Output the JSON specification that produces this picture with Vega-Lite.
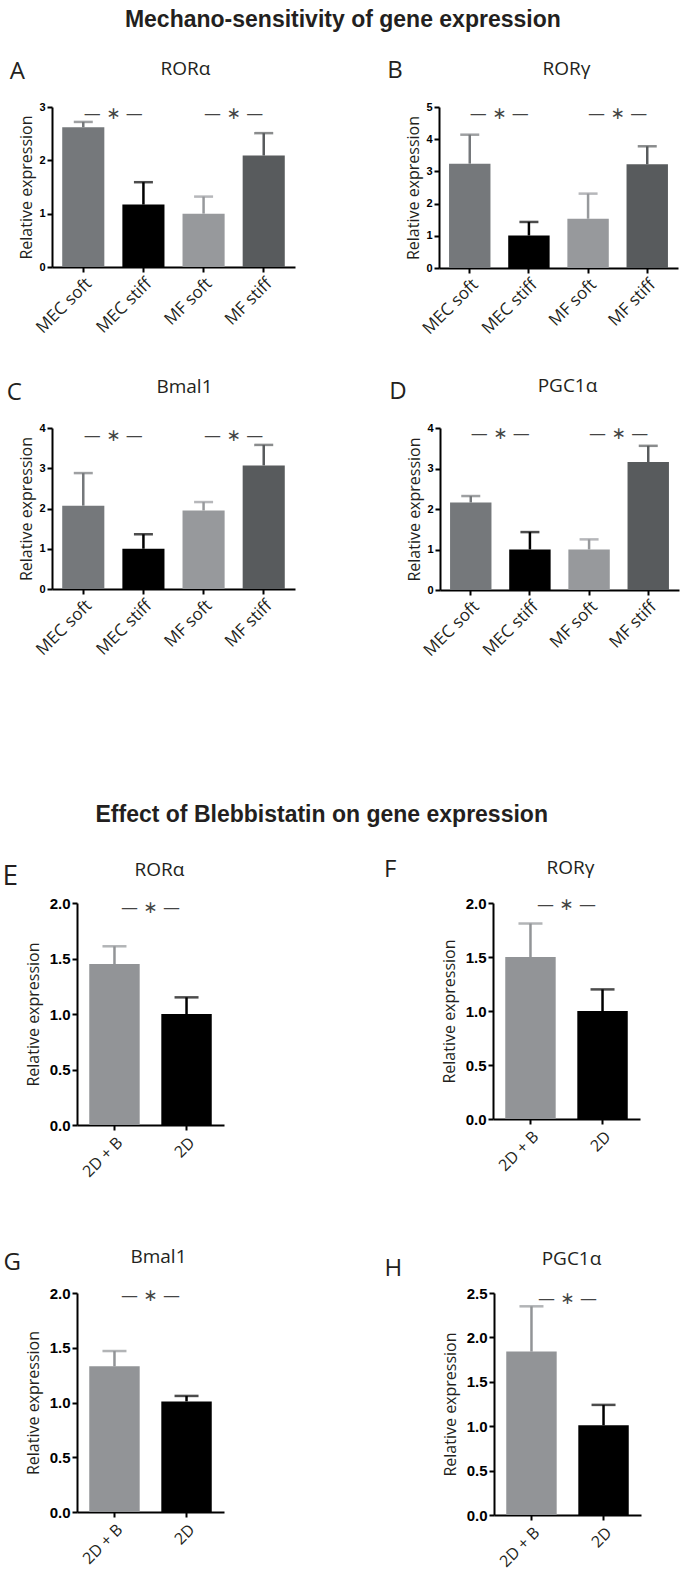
{
  "$schema": "https://vega.github.io/schema/vega-lite/v6.json",
  "background": "white",
  "padding": {"left": 2, "top": 9, "right": 2, "bottom": 2},
  "config": {
    "view": {"stroke": null},
    "axis": {
      "domainColor": "#000000", "domainWidth": 2, "tickColor": "#000000", "tickWidth": 2, "tickSize": 5,
      "labelFont": "Liberation Sans", "labelFontWeight": "bold", "labelColor": "#000000",
      "titleFont": "Open Sans", "titleFontWeight": "normal", "titleColor": "#231f20", "titleFontSize": 16,
      "grid": false, "labelOverlap": false, "labelFlush": false
    },
    "title": {"font": "Liberation Sans", "fontWeight": "bold", "fontSize": 23, "color": "#231f20", "anchor": "middle"},
    "text": {"font": "Open Sans", "color": "#231f20"}
  },
  "datasets": {
    "bars": [
      {"panel": "A", "group": "MEC soft", "mean": 2.62, "upper": 2.72},
      {"panel": "A", "group": "MEC stiff", "mean": 1.17, "upper": 1.59},
      {"panel": "A", "group": "MF soft", "mean": 1.0, "upper": 1.32},
      {"panel": "A", "group": "MF stiff", "mean": 2.09, "upper": 2.51},
      {"panel": "B", "group": "MEC soft", "mean": 3.24, "upper": 4.14},
      {"panel": "B", "group": "MEC stiff", "mean": 1.01, "upper": 1.43},
      {"panel": "B", "group": "MF soft", "mean": 1.53, "upper": 2.31},
      {"panel": "B", "group": "MF stiff", "mean": 3.22, "upper": 3.78},
      {"panel": "C", "group": "MEC soft", "mean": 2.07, "upper": 2.88},
      {"panel": "C", "group": "MEC stiff", "mean": 1.0, "upper": 1.36},
      {"panel": "C", "group": "MF soft", "mean": 1.95, "upper": 2.16},
      {"panel": "C", "group": "MF stiff", "mean": 3.07, "upper": 3.58},
      {"panel": "D", "group": "MEC soft", "mean": 2.16, "upper": 2.32},
      {"panel": "D", "group": "MEC stiff", "mean": 1.0, "upper": 1.43},
      {"panel": "D", "group": "MF soft", "mean": 1.0, "upper": 1.25},
      {"panel": "D", "group": "MF stiff", "mean": 3.16, "upper": 3.56},
      {"panel": "E", "group": "2D + B", "mean": 1.45, "upper": 1.61},
      {"panel": "E", "group": "2D", "mean": 1.0, "upper": 1.15},
      {"panel": "F", "group": "2D + B", "mean": 1.5, "upper": 1.81},
      {"panel": "F", "group": "2D", "mean": 1.0, "upper": 1.2},
      {"panel": "G", "group": "2D + B", "mean": 1.33, "upper": 1.47},
      {"panel": "G", "group": "2D", "mean": 1.01, "upper": 1.06},
      {"panel": "H", "group": "2D + B", "mean": 1.84, "upper": 2.35},
      {"panel": "H", "group": "2D", "mean": 1.01, "upper": 1.24}
    ],
    "sig": [
      {"panel": "A", "a": "MEC soft", "y": 2.86},
      {"panel": "A", "a": "MF soft", "y": 2.86},
      {"panel": "B", "a": "MEC soft", "y": 4.77},
      {"panel": "B", "a": "MF soft", "y": 4.77},
      {"panel": "C", "a": "MEC soft", "y": 3.79},
      {"panel": "C", "a": "MF soft", "y": 3.79},
      {"panel": "D", "a": "MEC soft", "y": 3.84},
      {"panel": "D", "a": "MF soft", "y": 3.84},
      {"panel": "E", "a": "2D + B", "y": 1.955},
      {"panel": "F", "a": "2D + B", "y": 1.98},
      {"panel": "G", "a": "2D + B", "y": 1.97},
      {"panel": "H", "a": "2D + B", "y": 2.43}
    ],
    "labels": [
      {"panel": "A", "letter": "A", "gene": "RORα"},
      {"panel": "B", "letter": "B", "gene": "RORγ"},
      {"panel": "C", "letter": "C", "gene": "Bmal1"},
      {"panel": "D", "letter": "D", "gene": "PGC1α"},
      {"panel": "E", "letter": "E", "gene": "RORα"},
      {"panel": "F", "letter": "F", "gene": "RORγ"},
      {"panel": "G", "letter": "G", "gene": "Bmal1"},
      {"panel": "H", "letter": "H", "gene": "PGC1α"}
    ]
  },
  "spacing": 145,
  "vconcat": [
    {
      "title": {"text": "Mechano-sensitivity of gene expression", "offset": 27},
      "spacing": 40,
      "vconcat": [
        {
          "spacing": 92,
          "hconcat": [
            {
              "width": 243, "height": 160,
              "layer": [
                {"data": {"name": "bars"}, "transform": [{"filter": "datum.panel === 'A'"}], "mark": {"type": "bar"},
                 "encoding": {
                   "x": {"field": "group", "type": "nominal", "sort": null, "title": null,
                         "scale": {"domain": ["MEC soft", "MEC stiff", "MF soft", "MF stiff"], "paddingInner": 0.3, "paddingOuter": 0.17},
                         "axis": {"labelAngle": -45, "labelFont": "Open Sans", "labelFontWeight": "normal", "labelFontSize": 17, "labelColor": "#231f20", "labelPadding": 3}},
                   "y": {"field": "mean", "type": "quantitative", "title": "Relative expression", "scale": {"domain": [0, 3], "nice": false},
                         "axis": {"values": [0, 1, 2, 3], "format": "d", "labelFontSize": 11, "labelPadding": 2, "labelOverlap": false}},
                   "color": {"field": "group", "type": "nominal", "legend": null,
                             "scale": {"domain": ["MEC soft", "MEC stiff", "MF soft", "MF stiff", "2D + B", "2D"], "range": ["#75787b", "#000000", "#97999c", "#585b5d", "#929497", "#000000"]}}}},
                {"data": {"name": "bars"}, "transform": [{"filter": "datum.panel === 'A'"}], "mark": {"type": "rule", "strokeWidth": 2.5},
                 "encoding": {"x": {"field": "group", "type": "nominal"}, "y": {"field": "mean", "type": "quantitative"}, "y2": {"field": "upper"}, "color": {"field": "group", "type": "nominal", "legend": null}}},
                {"data": {"name": "bars"}, "transform": [{"filter": "datum.panel === 'A'"}], "mark": {"type": "tick", "thickness": 2.5, "size": 19},
                 "encoding": {"x": {"field": "group", "type": "nominal"}, "y": {"field": "upper", "type": "quantitative"}, "color": {"field": "group", "type": "nominal", "legend": null}}},
                {"data": {"name": "sig"}, "transform": [{"filter": "datum.panel === 'A'"}], "mark": {"type": "text", "text": "\u2014\u00a0\u2217\u00a0\u2014", "font": "DejaVu Sans", "fontSize": 17, "baseline": "middle", "color": "#444444"},
                 "encoding": {"x": {"field": "a", "type": "nominal", "bandPosition": 1.214}, "y": {"field": "y", "type": "quantitative"}}},
                {"data": {"name": "labels"}, "transform": [{"filter": "datum.panel === 'A'"}], "mark": {"type": "text", "fontSize": 24, "align": "center", "baseline": "alphabetic", "dx": -45, "dy": -28},
                 "encoding": {"x": {"datum": "MEC soft", "type": "nominal", "bandPosition": 0}, "y": {"datum": 3, "type": "quantitative"}, "text": {"field": "letter"}}},
                {"data": {"name": "labels"}, "transform": [{"filter": "datum.panel === 'A'"}], "mark": {"type": "text", "fontSize": 19, "align": "center", "baseline": "alphabetic", "dx": 12, "dy": -32},
                 "encoding": {"x": {"datum": "MEC stiff", "type": "nominal", "bandPosition": 1.214}, "y": {"datum": 3, "type": "quantitative"}, "text": {"field": "gene"}}}
              ]
            },
            {
              "width": 239, "height": 161,
              "layer": [
                {"data": {"name": "bars"}, "transform": [{"filter": "datum.panel === 'B'"}], "mark": {"type": "bar"},
                 "encoding": {
                   "x": {"field": "group", "type": "nominal", "sort": null, "title": null,
                         "scale": {"domain": ["MEC soft", "MEC stiff", "MF soft", "MF stiff"], "paddingInner": 0.3, "paddingOuter": 0.17},
                         "axis": {"labelAngle": -45, "labelFont": "Open Sans", "labelFontWeight": "normal", "labelFontSize": 17, "labelColor": "#231f20", "labelPadding": 3}},
                   "y": {"field": "mean", "type": "quantitative", "title": "Relative expression", "scale": {"domain": [0, 5], "nice": false},
                         "axis": {"values": [0, 1, 2, 3, 4, 5], "tickCount": 6, "format": "d", "labelFontSize": 11, "labelPadding": 2, "labelOverlap": false}},
                   "color": {"field": "group", "type": "nominal", "legend": null,
                             "scale": {"domain": ["MEC soft", "MEC stiff", "MF soft", "MF stiff", "2D + B", "2D"], "range": ["#75787b", "#000000", "#97999c", "#585b5d", "#929497", "#000000"]}}}},
                {"data": {"name": "bars"}, "transform": [{"filter": "datum.panel === 'B'"}], "mark": {"type": "rule", "strokeWidth": 2.5},
                 "encoding": {"x": {"field": "group", "type": "nominal"}, "y": {"field": "mean", "type": "quantitative"}, "y2": {"field": "upper"}, "color": {"field": "group", "type": "nominal", "legend": null}}},
                {"data": {"name": "bars"}, "transform": [{"filter": "datum.panel === 'B'"}], "mark": {"type": "tick", "thickness": 2.5, "size": 19},
                 "encoding": {"x": {"field": "group", "type": "nominal"}, "y": {"field": "upper", "type": "quantitative"}, "color": {"field": "group", "type": "nominal", "legend": null}}},
                {"data": {"name": "sig"}, "transform": [{"filter": "datum.panel === 'B'"}], "mark": {"type": "text", "text": "\u2014\u00a0\u2217\u00a0\u2014", "font": "DejaVu Sans", "fontSize": 17, "baseline": "middle", "color": "#444444"},
                 "encoding": {"x": {"field": "a", "type": "nominal", "bandPosition": 1.214}, "y": {"field": "y", "type": "quantitative"}}},
                {"data": {"name": "labels"}, "transform": [{"filter": "datum.panel === 'B'"}], "mark": {"type": "text", "fontSize": 24, "align": "center", "baseline": "alphabetic", "dx": -54, "dy": -29},
                 "encoding": {"x": {"datum": "MEC soft", "type": "nominal", "bandPosition": 0}, "y": {"datum": 5, "type": "quantitative"}, "text": {"field": "letter"}}},
                {"data": {"name": "labels"}, "transform": [{"filter": "datum.panel === 'B'"}], "mark": {"type": "text", "fontSize": 19, "align": "center", "baseline": "alphabetic", "dx": 8, "dy": -32},
                 "encoding": {"x": {"datum": "MEC stiff", "type": "nominal", "bandPosition": 1.214}, "y": {"datum": 5, "type": "quantitative"}, "text": {"field": "gene"}}}
              ]
            }
          ]
        },
        {
          "spacing": 94,
          "hconcat": [
            {
              "width": 243, "height": 161,
              "layer": [
                {"data": {"name": "bars"}, "transform": [{"filter": "datum.panel === 'C'"}], "mark": {"type": "bar"},
                 "encoding": {
                   "x": {"field": "group", "type": "nominal", "sort": null, "title": null,
                         "scale": {"domain": ["MEC soft", "MEC stiff", "MF soft", "MF stiff"], "paddingInner": 0.3, "paddingOuter": 0.17},
                         "axis": {"labelAngle": -45, "labelFont": "Open Sans", "labelFontWeight": "normal", "labelFontSize": 17, "labelColor": "#231f20", "labelPadding": 3}},
                   "y": {"field": "mean", "type": "quantitative", "title": "Relative expression", "scale": {"domain": [0, 4], "nice": false},
                         "axis": {"values": [0, 1, 2, 3, 4], "format": "d", "labelFontSize": 11, "labelPadding": 2, "labelOverlap": false}},
                   "color": {"field": "group", "type": "nominal", "legend": null,
                             "scale": {"domain": ["MEC soft", "MEC stiff", "MF soft", "MF stiff", "2D + B", "2D"], "range": ["#75787b", "#000000", "#97999c", "#585b5d", "#929497", "#000000"]}}}},
                {"data": {"name": "bars"}, "transform": [{"filter": "datum.panel === 'C'"}], "mark": {"type": "rule", "strokeWidth": 2.5},
                 "encoding": {"x": {"field": "group", "type": "nominal"}, "y": {"field": "mean", "type": "quantitative"}, "y2": {"field": "upper"}, "color": {"field": "group", "type": "nominal", "legend": null}}},
                {"data": {"name": "bars"}, "transform": [{"filter": "datum.panel === 'C'"}], "mark": {"type": "tick", "thickness": 2.5, "size": 19},
                 "encoding": {"x": {"field": "group", "type": "nominal"}, "y": {"field": "upper", "type": "quantitative"}, "color": {"field": "group", "type": "nominal", "legend": null}}},
                {"data": {"name": "sig"}, "transform": [{"filter": "datum.panel === 'C'"}], "mark": {"type": "text", "text": "\u2014\u00a0\u2217\u00a0\u2014", "font": "DejaVu Sans", "fontSize": 17, "baseline": "middle", "color": "#444444"},
                 "encoding": {"x": {"field": "a", "type": "nominal", "bandPosition": 1.214}, "y": {"field": "y", "type": "quantitative"}}},
                {"data": {"name": "labels"}, "transform": [{"filter": "datum.panel === 'C'"}], "mark": {"type": "text", "fontSize": 24, "align": "center", "baseline": "alphabetic", "dx": -48, "dy": -28},
                 "encoding": {"x": {"datum": "MEC soft", "type": "nominal", "bandPosition": 0}, "y": {"datum": 4, "type": "quantitative"}, "text": {"field": "letter"}}},
                {"data": {"name": "labels"}, "transform": [{"filter": "datum.panel === 'C'"}], "mark": {"type": "text", "fontSize": 19, "align": "center", "baseline": "alphabetic", "dx": 11, "dy": -35},
                 "encoding": {"x": {"datum": "MEC stiff", "type": "nominal", "bandPosition": 1.214}, "y": {"datum": 4, "type": "quantitative"}, "text": {"field": "gene"}}}
              ]
            },
            {
              "width": 239, "height": 162,
              "layer": [
                {"data": {"name": "bars"}, "transform": [{"filter": "datum.panel === 'D'"}], "mark": {"type": "bar"},
                 "encoding": {
                   "x": {"field": "group", "type": "nominal", "sort": null, "title": null,
                         "scale": {"domain": ["MEC soft", "MEC stiff", "MF soft", "MF stiff"], "paddingInner": 0.3, "paddingOuter": 0.17},
                         "axis": {"labelAngle": -45, "labelFont": "Open Sans", "labelFontWeight": "normal", "labelFontSize": 17, "labelColor": "#231f20", "labelPadding": 3}},
                   "y": {"field": "mean", "type": "quantitative", "title": "Relative expression", "scale": {"domain": [0, 4], "nice": false},
                         "axis": {"values": [0, 1, 2, 3, 4], "format": "d", "labelFontSize": 11, "labelPadding": 2, "labelOverlap": false}},
                   "color": {"field": "group", "type": "nominal", "legend": null,
                             "scale": {"domain": ["MEC soft", "MEC stiff", "MF soft", "MF stiff", "2D + B", "2D"], "range": ["#75787b", "#000000", "#97999c", "#585b5d", "#929497", "#000000"]}}}},
                {"data": {"name": "bars"}, "transform": [{"filter": "datum.panel === 'D'"}], "mark": {"type": "rule", "strokeWidth": 2.5},
                 "encoding": {"x": {"field": "group", "type": "nominal"}, "y": {"field": "mean", "type": "quantitative"}, "y2": {"field": "upper"}, "color": {"field": "group", "type": "nominal", "legend": null}}},
                {"data": {"name": "bars"}, "transform": [{"filter": "datum.panel === 'D'"}], "mark": {"type": "tick", "thickness": 2.5, "size": 19},
                 "encoding": {"x": {"field": "group", "type": "nominal"}, "y": {"field": "upper", "type": "quantitative"}, "color": {"field": "group", "type": "nominal", "legend": null}}},
                {"data": {"name": "sig"}, "transform": [{"filter": "datum.panel === 'D'"}], "mark": {"type": "text", "text": "\u2014\u00a0\u2217\u00a0\u2014", "font": "DejaVu Sans", "fontSize": 17, "baseline": "middle", "color": "#444444"},
                 "encoding": {"x": {"field": "a", "type": "nominal", "bandPosition": 1.214}, "y": {"field": "y", "type": "quantitative"}}},
                {"data": {"name": "labels"}, "transform": [{"filter": "datum.panel === 'D'"}], "mark": {"type": "text", "fontSize": 24, "align": "center", "baseline": "alphabetic", "dx": -52, "dy": -29},
                 "encoding": {"x": {"datum": "MEC soft", "type": "nominal", "bandPosition": 0}, "y": {"datum": 4, "type": "quantitative"}, "text": {"field": "letter"}}},
                {"data": {"name": "labels"}, "transform": [{"filter": "datum.panel === 'D'"}], "mark": {"type": "text", "fontSize": 19, "align": "center", "baseline": "alphabetic", "dx": 8, "dy": -36},
                 "encoding": {"x": {"datum": "MEC stiff", "type": "nominal", "bandPosition": 1.214}, "y": {"datum": 4, "type": "quantitative"}, "text": {"field": "gene"}}}
              ]
            }
          ]
        }
      ]
    },
    {
      "spacing": -51,
      "hconcat": [
        {"width": 1, "height": 1, "data": {"values": []}, "mark": {"type": "point", "opacity": 0}},
        {
          "title": {"text": "Effect of Blebbistatin on gene expression", "offset": 31},
          "spacing": 68,
          "vconcat": [
            {
              "spacing": 160,
              "hconcat": [
                {
                  "width": 147, "height": 222,
                  "layer": [
                    {"data": {"name": "bars"}, "transform": [{"filter": "datum.panel === 'E'"}], "mark": {"type": "bar"},
                     "encoding": {
                       "x": {"field": "group", "type": "nominal", "sort": null, "title": null,
                             "scale": {"domain": ["2D + B", "2D"], "paddingInner": 0.3, "paddingOuter": 0.17},
                             "axis": {"labelAngle": -45, "labelFont": "Open Sans", "labelFontWeight": "normal", "labelFontSize": 16, "labelColor": "#231f20", "labelPadding": 4}},
                       "y": {"field": "mean", "type": "quantitative", "title": "Relative expression", "scale": {"domain": [0, 2], "nice": false},
                             "axis": {"values": [0, 0.5, 1, 1.5, 2], "format": ".1f", "labelFontSize": 15, "labelPadding": 2, "titlePadding": 8, "labelOverlap": false}},
                       "color": {"field": "group", "type": "nominal", "legend": null,
                                 "scale": {"domain": ["MEC soft", "MEC stiff", "MF soft", "MF stiff", "2D + B", "2D"], "range": ["#75787b", "#000000", "#97999c", "#585b5d", "#929497", "#000000"]}}}},
                    {"data": {"name": "bars"}, "transform": [{"filter": "datum.panel === 'E'"}], "mark": {"type": "rule", "strokeWidth": 2.5},
                     "encoding": {"x": {"field": "group", "type": "nominal"}, "y": {"field": "mean", "type": "quantitative"}, "y2": {"field": "upper"}, "color": {"field": "group", "type": "nominal", "legend": null}}},
                    {"data": {"name": "bars"}, "transform": [{"filter": "datum.panel === 'E'"}], "mark": {"type": "tick", "thickness": 2.5, "size": 24},
                     "encoding": {"x": {"field": "group", "type": "nominal"}, "y": {"field": "upper", "type": "quantitative"}, "color": {"field": "group", "type": "nominal", "legend": null}}},
                    {"data": {"name": "sig"}, "transform": [{"filter": "datum.panel === 'E'"}], "mark": {"type": "text", "text": "\u2014\u00a0\u2217\u00a0\u2014", "font": "DejaVu Sans", "fontSize": 17, "baseline": "middle", "color": "#444444"},
                     "encoding": {"x": {"field": "a", "type": "nominal", "bandPosition": 1.214}, "y": {"field": "y", "type": "quantitative"}}},
                    {"data": {"name": "labels"}, "transform": [{"filter": "datum.panel === 'E'"}], "mark": {"type": "text", "fontSize": 28, "align": "center", "baseline": "alphabetic", "dx": -79, "dy": -18},
                     "encoding": {"x": {"datum": "2D + B", "type": "nominal", "bandPosition": 0}, "y": {"datum": 2, "type": "quantitative"}, "text": {"field": "letter"}}},
                    {"data": {"name": "labels"}, "transform": [{"filter": "datum.panel === 'E'"}], "mark": {"type": "text", "fontSize": 19, "align": "center", "baseline": "alphabetic", "dx": 9, "dy": -27},
                     "encoding": {"x": {"datum": "2D + B", "type": "nominal", "bandPosition": 1.214}, "y": {"datum": 2, "type": "quantitative"}, "text": {"field": "gene"}}}
                  ]
                },
                {
                  "width": 147, "height": 216,
                  "layer": [
                    {"data": {"name": "bars"}, "transform": [{"filter": "datum.panel === 'F'"}], "mark": {"type": "bar"},
                     "encoding": {
                       "x": {"field": "group", "type": "nominal", "sort": null, "title": null,
                             "scale": {"domain": ["2D + B", "2D"], "paddingInner": 0.3, "paddingOuter": 0.17},
                             "axis": {"labelAngle": -45, "labelFont": "Open Sans", "labelFontWeight": "normal", "labelFontSize": 16, "labelColor": "#231f20", "labelPadding": 4}},
                       "y": {"field": "mean", "type": "quantitative", "title": "Relative expression", "scale": {"domain": [0, 2], "nice": false},
                             "axis": {"values": [0, 0.5, 1, 1.5, 2], "format": ".1f", "labelFontSize": 15, "labelPadding": 2, "titlePadding": 8, "labelOverlap": false}},
                       "color": {"field": "group", "type": "nominal", "legend": null,
                                 "scale": {"domain": ["MEC soft", "MEC stiff", "MF soft", "MF stiff", "2D + B", "2D"], "range": ["#75787b", "#000000", "#97999c", "#585b5d", "#929497", "#000000"]}}}},
                    {"data": {"name": "bars"}, "transform": [{"filter": "datum.panel === 'F'"}], "mark": {"type": "rule", "strokeWidth": 2.5},
                     "encoding": {"x": {"field": "group", "type": "nominal"}, "y": {"field": "mean", "type": "quantitative"}, "y2": {"field": "upper"}, "color": {"field": "group", "type": "nominal", "legend": null}}},
                    {"data": {"name": "bars"}, "transform": [{"filter": "datum.panel === 'F'"}], "mark": {"type": "tick", "thickness": 2.5, "size": 24},
                     "encoding": {"x": {"field": "group", "type": "nominal"}, "y": {"field": "upper", "type": "quantitative"}, "color": {"field": "group", "type": "nominal", "legend": null}}},
                    {"data": {"name": "sig"}, "transform": [{"filter": "datum.panel === 'F'"}], "mark": {"type": "text", "text": "\u2014\u00a0\u2217\u00a0\u2014", "font": "DejaVu Sans", "fontSize": 17, "baseline": "middle", "color": "#444444"},
                     "encoding": {"x": {"field": "a", "type": "nominal", "bandPosition": 1.214}, "y": {"field": "y", "type": "quantitative"}}},
                    {"data": {"name": "labels"}, "transform": [{"filter": "datum.panel === 'F'"}], "mark": {"type": "text", "fontSize": 24, "align": "center", "baseline": "alphabetic", "dx": -115, "dy": -26},
                     "encoding": {"x": {"datum": "2D + B", "type": "nominal", "bandPosition": 0}, "y": {"datum": 2, "type": "quantitative"}, "text": {"field": "letter"}}},
                    {"data": {"name": "labels"}, "transform": [{"filter": "datum.panel === 'F'"}], "mark": {"type": "text", "fontSize": 19, "align": "center", "baseline": "alphabetic", "dx": 4, "dy": -29},
                     "encoding": {"x": {"datum": "2D + B", "type": "nominal", "bandPosition": 1.214}, "y": {"datum": 2, "type": "quantitative"}, "text": {"field": "gene"}}}
                  ]
                }
              ]
            },
            {
              "spacing": 160,
              "hconcat": [
                {
                  "width": 147, "height": 219,
                  "layer": [
                    {"data": {"name": "bars"}, "transform": [{"filter": "datum.panel === 'G'"}], "mark": {"type": "bar"},
                     "encoding": {
                       "x": {"field": "group", "type": "nominal", "sort": null, "title": null,
                             "scale": {"domain": ["2D + B", "2D"], "paddingInner": 0.3, "paddingOuter": 0.17},
                             "axis": {"labelAngle": -45, "labelFont": "Open Sans", "labelFontWeight": "normal", "labelFontSize": 16, "labelColor": "#231f20", "labelPadding": 4}},
                       "y": {"field": "mean", "type": "quantitative", "title": "Relative expression", "scale": {"domain": [0, 2], "nice": false},
                             "axis": {"values": [0, 0.5, 1, 1.5, 2], "format": ".1f", "labelFontSize": 15, "labelPadding": 2, "titlePadding": 8, "labelOverlap": false}},
                       "color": {"field": "group", "type": "nominal", "legend": null,
                                 "scale": {"domain": ["MEC soft", "MEC stiff", "MF soft", "MF stiff", "2D + B", "2D"], "range": ["#75787b", "#000000", "#97999c", "#585b5d", "#929497", "#000000"]}}}},
                    {"data": {"name": "bars"}, "transform": [{"filter": "datum.panel === 'G'"}], "mark": {"type": "rule", "strokeWidth": 2.5},
                     "encoding": {"x": {"field": "group", "type": "nominal"}, "y": {"field": "mean", "type": "quantitative"}, "y2": {"field": "upper"}, "color": {"field": "group", "type": "nominal", "legend": null}}},
                    {"data": {"name": "bars"}, "transform": [{"filter": "datum.panel === 'G'"}], "mark": {"type": "tick", "thickness": 2.5, "size": 24},
                     "encoding": {"x": {"field": "group", "type": "nominal"}, "y": {"field": "upper", "type": "quantitative"}, "color": {"field": "group", "type": "nominal", "legend": null}}},
                    {"data": {"name": "sig"}, "transform": [{"filter": "datum.panel === 'G'"}], "mark": {"type": "text", "text": "\u2014\u00a0\u2217\u00a0\u2014", "font": "DejaVu Sans", "fontSize": 17, "baseline": "middle", "color": "#444444"},
                     "encoding": {"x": {"field": "a", "type": "nominal", "bandPosition": 1.214}, "y": {"field": "y", "type": "quantitative"}}},
                    {"data": {"name": "labels"}, "transform": [{"filter": "datum.panel === 'G'"}], "mark": {"type": "text", "fontSize": 24, "align": "center", "baseline": "alphabetic", "dx": -77, "dy": -23},
                     "encoding": {"x": {"datum": "2D + B", "type": "nominal", "bandPosition": 0}, "y": {"datum": 2, "type": "quantitative"}, "text": {"field": "letter"}}},
                    {"data": {"name": "labels"}, "transform": [{"filter": "datum.panel === 'G'"}], "mark": {"type": "text", "fontSize": 19, "align": "center", "baseline": "alphabetic", "dx": 8, "dy": -30},
                     "encoding": {"x": {"datum": "2D + B", "type": "nominal", "bandPosition": 1.214}, "y": {"datum": 2, "type": "quantitative"}, "text": {"field": "gene"}}}
                  ]
                },
                {
                  "width": 147, "height": 222,
                  "layer": [
                    {"data": {"name": "bars"}, "transform": [{"filter": "datum.panel === 'H'"}], "mark": {"type": "bar"},
                     "encoding": {
                       "x": {"field": "group", "type": "nominal", "sort": null, "title": null,
                             "scale": {"domain": ["2D + B", "2D"], "paddingInner": 0.3, "paddingOuter": 0.17},
                             "axis": {"labelAngle": -45, "labelFont": "Open Sans", "labelFontWeight": "normal", "labelFontSize": 16, "labelColor": "#231f20", "labelPadding": 4}},
                       "y": {"field": "mean", "type": "quantitative", "title": "Relative expression", "scale": {"domain": [0, 2.5], "nice": false},
                             "axis": {"values": [0, 0.5, 1, 1.5, 2, 2.5], "format": ".1f", "labelFontSize": 15, "labelPadding": 2, "titlePadding": 8, "labelOverlap": false}},
                       "color": {"field": "group", "type": "nominal", "legend": null,
                                 "scale": {"domain": ["MEC soft", "MEC stiff", "MF soft", "MF stiff", "2D + B", "2D"], "range": ["#75787b", "#000000", "#97999c", "#585b5d", "#929497", "#000000"]}}}},
                    {"data": {"name": "bars"}, "transform": [{"filter": "datum.panel === 'H'"}], "mark": {"type": "rule", "strokeWidth": 2.5},
                     "encoding": {"x": {"field": "group", "type": "nominal"}, "y": {"field": "mean", "type": "quantitative"}, "y2": {"field": "upper"}, "color": {"field": "group", "type": "nominal", "legend": null}}},
                    {"data": {"name": "bars"}, "transform": [{"filter": "datum.panel === 'H'"}], "mark": {"type": "tick", "thickness": 2.5, "size": 24},
                     "encoding": {"x": {"field": "group", "type": "nominal"}, "y": {"field": "upper", "type": "quantitative"}, "color": {"field": "group", "type": "nominal", "legend": null}}},
                    {"data": {"name": "sig"}, "transform": [{"filter": "datum.panel === 'H'"}], "mark": {"type": "text", "text": "\u2014\u00a0\u2217\u00a0\u2014", "font": "DejaVu Sans", "fontSize": 17, "baseline": "middle", "color": "#444444"},
                     "encoding": {"x": {"field": "a", "type": "nominal", "bandPosition": 1.214}, "y": {"field": "y", "type": "quantitative"}}},
                    {"data": {"name": "labels"}, "transform": [{"filter": "datum.panel === 'H'"}], "mark": {"type": "text", "fontSize": 24, "align": "center", "baseline": "alphabetic", "dx": -113, "dy": -17},
                     "encoding": {"x": {"datum": "2D + B", "type": "nominal", "bandPosition": 0}, "y": {"datum": 2.5, "type": "quantitative"}, "text": {"field": "letter"}}},
                    {"data": {"name": "labels"}, "transform": [{"filter": "datum.panel === 'H'"}], "mark": {"type": "text", "fontSize": 19, "align": "center", "baseline": "alphabetic", "dx": 4, "dy": -28},
                     "encoding": {"x": {"datum": "2D + B", "type": "nominal", "bandPosition": 1.214}, "y": {"datum": 2.5, "type": "quantitative"}, "text": {"field": "gene"}}}
                  ]
                }
              ]
            }
          ]
        }
      ]
    }
  ]
}
